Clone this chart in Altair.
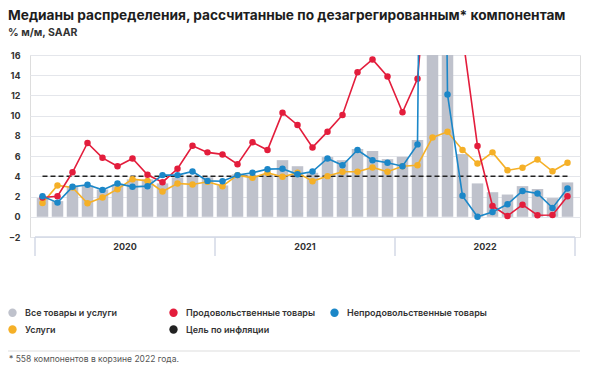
import altair as alt
import pandas as pd

# ---- data ----
month_idx = list(range(36))  # Jan 2020 .. Dec 2022
all_items = [1.85, 1.55, 3.0, 3.1, 2.7, 3.2, 3.7, 3.7, 3.3, 3.9, 4.05, 3.9,
             3.1, 4.2, 4.1, 4.2, 5.6, 5.0, 4.35, 5.9, 5.6, 6.7, 6.5, 5.7,
             5.93, 7.6, 22.0, 22.0, 6.2, 3.3, 2.43, 2.2, 3.03, 2.75, 1.85, 3.4]
food = [1.9, 2.03, 4.4, 7.3, 5.83, 5.0, 5.77, 4.15, 3.42, 4.75, 7.03, 6.37,
        6.17, 5.2, 7.36, 6.6, 10.3, 9.08, 6.86, 8.42, 10.07, 14.3, 15.56, 13.87,
        10.33, 13.64, 30.0, 25.0, 18.0, 7.0, 1.07, 0.08, 1.2, 0.15, 0.18, 2.03]
nonfood = [2.03, 1.4, 2.96, 3.16, 2.66, 3.3, 2.96, 3.03, 4.12, 4.12, 4.48, 3.55,
           3.52, 4.12, 4.35, 4.71, 4.75, 4.2, 4.48, 5.77, 5.1, 6.6, 5.6, 5.34,
           5.0, 7.16, 150.0, 12.1, 2.07, 0.0, 0.48, 1.24, 2.56, 2.3, 0.88, 2.8]
services = [1.37, 3.1, 2.9, 1.34, 1.9, 2.73, 3.72, 3.55, 2.5, 3.29, 3.2, 3.46,
            3.03, 4.12, 3.85, 4.35, 3.95, 4.35, 3.52, 4.02, 4.45, 4.45, 4.88, 4.45,
            5.0, 5.1, 7.85, 8.4, 6.6, 5.27, 6.37, 4.6, 4.84, 5.67, 4.5, 5.34]
target = [4.0] * 36

years = ["2020", "2021", "2022"]
year_centers = [5.5, 17.5, 29.5]
year_edges = [-0.5, 11.5, 23.5, 35.5]
y_ticks = [-2, 0, 2, 4, 6, 8, 10, 12, 14, 16]

S_ALL = "Все товары и услуги"
S_FOOD = "Продовольственные товары"
S_NONFOOD = "Непродовольственные товары"
S_SERV = "Услуги"
S_TGT = "Цель по инфляции"
series_names = [S_ALL, S_FOOD, S_NONFOOD, S_SERV, S_TGT]
series_colors = ["#bfc2cc", "#e31d3c", "#1b87c8", "#f5b027", "#222222"]

title_text = "Медианы распределения, рассчитанные по дезагрегированным* компонентам"
subtitle_text = "% м/м, SAAR"
footnote_text = "* 558 компонентов в корзине 2022 года."

# ---- tables ----
df = pd.DataFrame({
    "t": month_idx, "all": all_items, "food": food, "nonfood": nonfood,
    "services": services, "target": target, "series": S_ALL,
})
years_df = pd.DataFrame({"year": years, "c": year_centers})
edges_df = pd.DataFrame({"e": year_edges})
top_df = pd.DataFrame({"x0": [year_edges[0]], "x1": [year_edges[-1]], "yv": [y_ticks[0]]})
foot_df = pd.DataFrame({"txt": [footnote_text]})

W, H = 550, 182
xs = alt.Scale(domain=[-0.5, 35.5], nice=False, zero=False)
ys = alt.Scale(domain=[-2, 16], nice=False, zero=False)
X = alt.X("t:Q", scale=xs, axis=None)
Y_AXIS = alt.Axis(values=y_ticks, grid=True, gridColor="#e4e6eb", gridWidth=1,
                  domain=False, ticks=False, labelPadding=10, labelFontSize=9,
                  labelFontWeight="bold", labelColor="#333333", title=None)


def Yf(field):
    return alt.Y(f"{field}:Q", scale=ys, axis=Y_AXIS, title=None)


base = alt.Chart(df)

bars = base.mark_bar(size=11.5, clip=True).encode(
    x=X,
    y=Yf("all"),
    color=alt.Color("series:N",
                    scale=alt.Scale(domain=series_names, range=series_colors),
                    legend=alt.Legend(title=None, orient="none", direction="horizontal",
                                      columns=3, gridAlign="all",
                                      legendX=-22, legendY=253,
                                      symbolType="circle", symbolSize=70,
                                      symbolStrokeWidth=0, labelFontSize=9,
                                      labelFontWeight=600, labelColor="#333333",
                                      labelOffset=8, columnPadding=4,
                                      rowPadding=7, padding=0,
                                      labelLimit=300)),
)

tgt = base.mark_line(color="#222222", strokeDash=[5, 3], strokeWidth=1.5).encode(
    x=X, y=Yf("target"))


def series_layer(field, color):
    line = base.mark_line(color=color, strokeWidth=1.6, clip=True).encode(
        x=X, y=Yf(field))
    pts = base.mark_circle(color=color, size=42, opacity=1, clip=True).encode(
        x=X, y=Yf(field))
    return [line, pts]


band_top = alt.Chart(top_df).mark_rule(color="#d3d9e6", strokeWidth=1.5).encode(
    x=alt.X("x0:Q", scale=xs, axis=None), x2="x1:Q", y=Yf("yv"))
band_sep = alt.Chart(edges_df).mark_rule(color="#d3d9e6", strokeWidth=1.5).encode(
    x=alt.X("e:Q", scale=xs, axis=None), y=alt.value(H), y2=alt.value(H + 19))
year_txt = alt.Chart(years_df).mark_text(fontSize=9, fontWeight="bold", color="#333333").encode(
    x=alt.X("c:Q", scale=xs, axis=None), y=alt.value(H + 10), text="year:N")

sep_line = alt.Chart(foot_df).mark_rule(color="#dddddd", strokeWidth=1).encode(
    x=alt.value(-22), x2=alt.value(W), y=alt.value(H + 114))
foot = alt.Chart(foot_df).mark_text(align="left", baseline="middle", fontSize=8.5,
                                    color="#555555").encode(
    x=alt.value(-21), y=alt.value(H + 122), text="txt:N")

layers = [bars, band_top, band_sep, year_txt, tgt]
layers += series_layer("services", "#f5b027")
layers += series_layer("food", "#e31d3c")
layers += series_layer("nonfood", "#1b87c8")
layers += [sep_line, foot]

chart = alt.layer(*layers).properties(
    width=W, height=H,
    title=alt.TitleParams(text=title_text, subtitle=subtitle_text, anchor="start",
                          frame="group", dx=-22, offset=13, fontSize=13.7,
                          fontWeight="bold", color="#1d1d1d", font="Inter",
                          subtitleFont="Inter", subtitleFontSize=10.5,
                          subtitleFontWeight="bold", subtitleColor="#333333",
                          subtitlePadding=5),
    autosize=alt.AutoSizeParams(type="none"),
    padding={"left": 22, "top": 47, "right": 1, "bottom": 128},
).configure_view(stroke=None).configure(font="Inter")

chart.save("out.html", embed_options={"renderer": "svg", "actions": False})
